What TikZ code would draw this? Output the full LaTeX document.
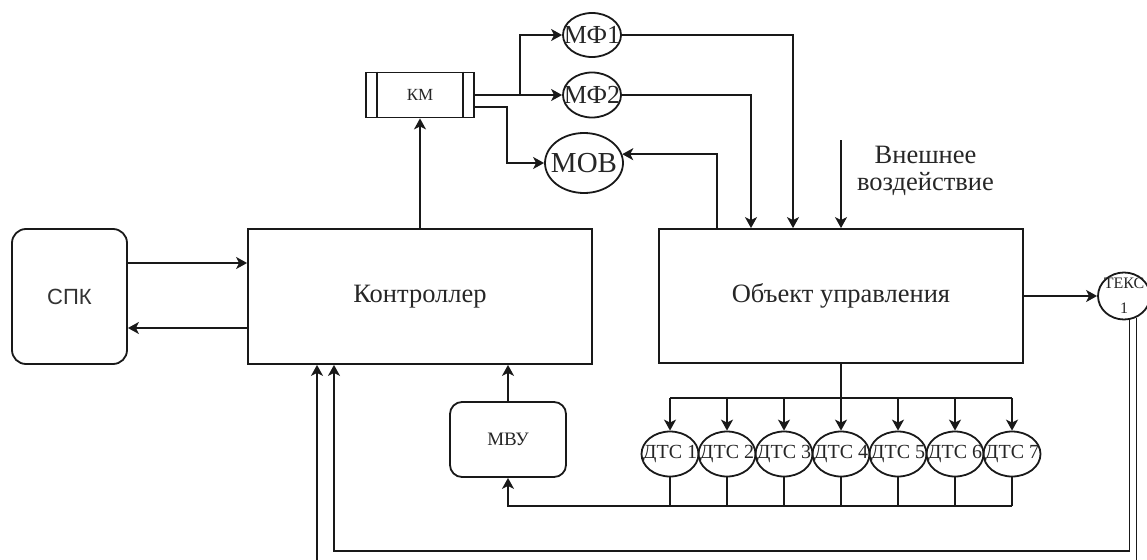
\documentclass[tikz,border=0pt]{standalone}
\usepackage{fontspec}
\setmainfont{Liberation Serif}
\newfontfamily\sansf{Liberation Sans}
\usetikzlibrary{arrows.meta,shapes.geometric}
\tikzset{
  ln/.style={line width=1.8pt, draw=black!90},
  arr/.style={ln, -{Stealth[length=11pt,width=12pt,inset=3pt]}},
  rbox/.style={ln, draw, rectangle, inner sep=0pt},
  ell/.style={ln, draw, ellipse, inner sep=0pt},
  lab/.style={inner sep=0pt, text=black!85},
  big/.style={font=\fontsize{26.5}{28}\selectfont, text=black!85},
}
\begin{document}
\begin{tikzpicture}[x=1pt,y=-1pt]
\path[use as bounding box] (0,0) rectangle (1147,559);
\begin{scope}
\clip (0,0) rectangle (1147,559);
% nodes
\node[rbox, rounded corners=14pt, minimum width=115pt, minimum height=135pt,
      font=\sansf\fontsize{22}{24}\selectfont, text=black!80] (spk) at (69.5,296.5) {СПК};
\node[rbox, minimum width=344pt, minimum height=135pt, big] (ctrl) at (420,296.5) {Контроллер};
\node[rbox, minimum width=108pt, minimum height=45pt, font=\fontsize{17}{18}\selectfont, text=black!85] (km) at (420,95) {КМ};
\draw[ln] ([xshift=12pt]km.north west) -- ([xshift=12pt]km.south west);
\draw[ln] ([xshift=-12pt]km.north east) -- ([xshift=-12pt]km.south east);
\node[ell, minimum width=58pt, minimum height=44pt, label={[lab,font=\fontsize{26}{28}\selectfont]center:МФ1}] (mf1) at (592,35) {};
\node[ell, minimum width=58pt, minimum height=45pt, label={[lab,font=\fontsize{26}{28}\selectfont]center:МФ2}] (mf2) at (592,95) {};
\node[ell, minimum width=78pt, minimum height=60pt, label={[lab,font=\fontsize{29}{30}\selectfont]center:МОВ}] (mov) at (584,163) {};
\node[rbox, minimum width=364pt, minimum height=134pt, big] (obj) at (841,296) {Объект управления};
\node[ell, minimum width=52pt, minimum height=47pt,
      label={[lab,font=\fontsize{16}{25}\selectfont,align=center]center:ТЕКС\\1}] (teks) at (1124,296) {};
\node[rbox, rounded corners=12pt, minimum width=116pt, minimum height=75pt,
      font=\fontsize{19}{20}\selectfont, text=black!85] (mvu) at (508,439.5) {МВУ};
\foreach \i in {1,...,7}{
  \node[ell, minimum width=57pt, minimum height=45pt,
        label={[lab,font=\fontsize{20}{24}\selectfont]center:ДТС \i}] (d\i) at ({670+57*(\i-1)},454) {};
}
\node[lab, align=center, font=\fontsize{26.5}{27}\selectfont] (exttxt) at (925.5,171) {Внешнее\\воздействие};
\coordinate (ext) at (841,140);
\coordinate (br) at (520,95);
% connectors
\draw[arr] (spk.east |- 0,263) -- (ctrl.west |- 0,263);
\draw[arr] (ctrl.west |- 0,328) -- (spk.east |- 0,328);
\draw[arr] (ctrl.north) -- (km.south);
\draw[arr] (km.east) -- (mf2.west);
\draw[arr] (br) |- (mf1.west);
\draw[arr] (km.east |- 0,107) -- (507,107) |- (mov.west);
\draw[arr] (mf1.east) -| (obj.north -| 793,0);
\draw[arr] (mf2.east) -| (obj.north -| 751,0);
\draw[arr] (obj.north -| 717,0) |- (mov.13);
\draw[arr] (ext) -- (obj.north -| ext);
\draw[arr] (obj.east) -- (teks.west);
\draw[ln] (obj.south) -- (obj.south |- 0,398);
\draw[ln] (d1.north |- 0,398) -- (d7.north |- 0,398);
\foreach \i in {1,...,7}{
  \draw[arr] (d\i.north |- 0,398) -- (d\i.north);
  \draw[ln] (d\i.south) -- (d\i.south |- 0,506);
}
\draw[arr] (d7.south |- 0,506) -| (mvu.south);
\draw[arr] (mvu.north) -- (mvu.north |- ctrl.south);
\draw[arr] (teks.-77) -- (teks.-77 |- 0,551) -| (ctrl.south -| 334,0);
\draw[arr] (teks.-60) -- (teks.-60 |- 0,575) -| (ctrl.south -| 317,0);
\end{scope}
\end{tikzpicture}
\end{document}
